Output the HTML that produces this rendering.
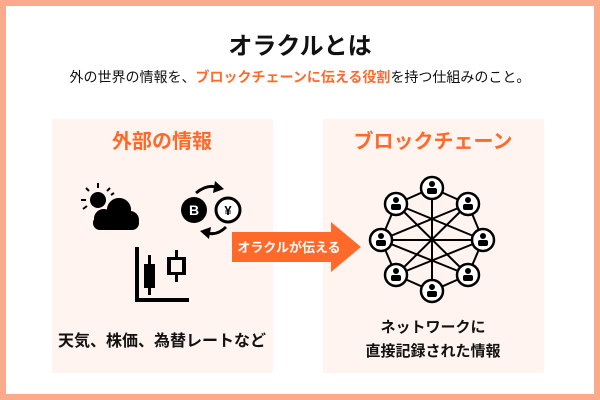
<!DOCTYPE html>
<html><head><meta charset="utf-8"><style>
html,body{margin:0;padding:0;width:600px;height:400px;overflow:hidden;background:#fff}
text{font-family:"Liberation Sans","Noto Sans CJK JP",sans-serif}
</style></head><body>
<svg width="600" height="400" viewBox="0 0 600 400" xmlns="http://www.w3.org/2000/svg">
<rect x="3" y="3" width="594" height="394" fill="#fff" stroke="#fcaa8c" stroke-width="6"/>
<text x="300" y="54" text-anchor="middle" font-size="24" font-weight="bold" fill="#111">オラクルとは</text>
<text x="300" y="82" text-anchor="middle" font-size="14" fill="#111">外の世界の情報を、<tspan fill="#ff6a2b" font-weight="bold">ブロックチェーンに伝える役割</tspan>を持つ仕組みのこと。</text>
<rect x="52" y="119" width="221" height="254" rx="2" fill="#fff4f0"/>
<rect x="323" y="119" width="221" height="254" rx="2" fill="#fff4f0"/>
<text x="162" y="148" text-anchor="middle" font-size="20" font-weight="bold" fill="#ff6a2b">外部の情報</text>
<text x="433" y="148" text-anchor="middle" font-size="20" font-weight="bold" fill="#ff6a2b">ブロックチェーン</text>
<!-- weather -->
<g fill="#000">
<circle cx="98" cy="200" r="8"/>
<g stroke="#000" stroke-width="2">
<line x1="98" y1="183" x2="98" y2="188"/><line x1="86" y1="188" x2="89" y2="191"/><line x1="110" y1="188" x2="107" y2="191"/><line x1="81" y1="200" x2="86" y2="200"/><line x1="83" y1="209" x2="87" y2="206"/><line x1="114" y1="193" x2="111" y2="195"/>
</g>
<circle cx="104" cy="219" r="11" stroke="#fff4f0" stroke-width="2"/>
<circle cx="119" cy="210" r="13" stroke="#fff4f0" stroke-width="2"/>
<circle cx="130" cy="220" r="9"/>
<rect x="93" y="216" width="46" height="14" rx="7"/>
<circle cx="119" cy="210" r="12"/>
<circle cx="104" cy="219" r="10"/>
</g>
<!-- coins -->
<circle cx="194" cy="210" r="13" fill="#000"/>
<text x="194" y="215" text-anchor="middle" font-size="14" font-weight="bold" fill="#fff">B</text>
<circle cx="228" cy="210" r="12" fill="#fff" stroke="#000" stroke-width="3"/>
<text x="228" y="215" text-anchor="middle" font-size="13" font-weight="bold" fill="#000">¥</text>
<path d="M196 193 Q208 183 219 188" fill="none" stroke="#000" stroke-width="3"/>
<polygon points="215,181 224,189 213,193" fill="#000"/>
<path d="M226 227 Q216 237 205 232" fill="none" stroke="#000" stroke-width="3"/>
<polygon points="209,239 200,231 211,227" fill="#000"/>
<!-- chart -->
<g fill="#000">
<rect x="135" y="247" width="4" height="55"/><rect x="135" y="298" width="54" height="4"/>
<rect x="148" y="255" width="3" height="40"/><rect x="144" y="264" width="11" height="24"/>
<rect x="175" y="250" width="3" height="32"/><rect x="167" y="257" width="19" height="18" fill="#000"/>
<rect x="171" y="260" width="11" height="12" fill="#fff4f0"/>
</g>
<text x="162" y="346" text-anchor="middle" font-size="16" font-weight="bold" fill="#111">天気、株価、為替レートなど</text>
<!-- arrow -->
<polygon points="232,232 331,232 331,222 361,247 331,272 331,262 232,262" fill="#ff6a2b"/>
<text x="289" y="252" text-anchor="middle" font-size="13" font-weight="bold" fill="#fff">オラクルが伝える</text>
<!-- network -->
<g stroke="#000" stroke-width="2" fill="none">
<polygon points="432,188 468,204 483,240 468,275 432,291 396,275 381,240 396,204"/>
<line x1="432" y1="188" x2="432" y2="291"/>
<line x1="381" y1="240" x2="483" y2="240"/>
<line x1="396" y1="204" x2="483" y2="240"/><line x1="396" y1="204" x2="468" y2="275"/>
<line x1="468" y1="204" x2="381" y2="240"/><line x1="468" y1="204" x2="396" y2="275"/>
<line x1="396" y1="275" x2="483" y2="240"/><line x1="468" y1="275" x2="381" y2="240"/>
</g>
<g fill="#fff" stroke="#000" stroke-width="2.5">
<circle cx="432" cy="188" r="11"/><circle cx="468" cy="204" r="11"/><circle cx="483" cy="240" r="11"/><circle cx="468" cy="275" r="11"/>
<circle cx="432" cy="291" r="11"/><circle cx="396" cy="275" r="11"/><circle cx="381" cy="240" r="11"/><circle cx="396" cy="204" r="11"/>
</g>
<g fill="#000">
<circle cx="432" cy="184" r="3"/><rect x="427" y="188" width="10" height="6" rx="2"/>
<circle cx="468" cy="200" r="3"/><rect x="463" y="204" width="10" height="6" rx="2"/>
<circle cx="483" cy="236" r="3"/><rect x="478" y="240" width="10" height="6" rx="2"/>
<circle cx="468" cy="271" r="3"/><rect x="463" y="275" width="10" height="6" rx="2"/>
<circle cx="432" cy="287" r="3"/><rect x="427" y="291" width="10" height="6" rx="2"/>
<circle cx="396" cy="271" r="3"/><rect x="391" y="275" width="10" height="6" rx="2"/>
<circle cx="381" cy="236" r="3"/><rect x="376" y="240" width="10" height="6" rx="2"/>
<circle cx="396" cy="200" r="3"/><rect x="391" y="204" width="10" height="6" rx="2"/>
</g>
<text x="433" y="332" text-anchor="middle" font-size="15" font-weight="bold" fill="#111">ネットワークに</text>
<text x="433" y="356" text-anchor="middle" font-size="15" font-weight="bold" fill="#111">直接記録された情報</text>
</svg>
</body></html>
